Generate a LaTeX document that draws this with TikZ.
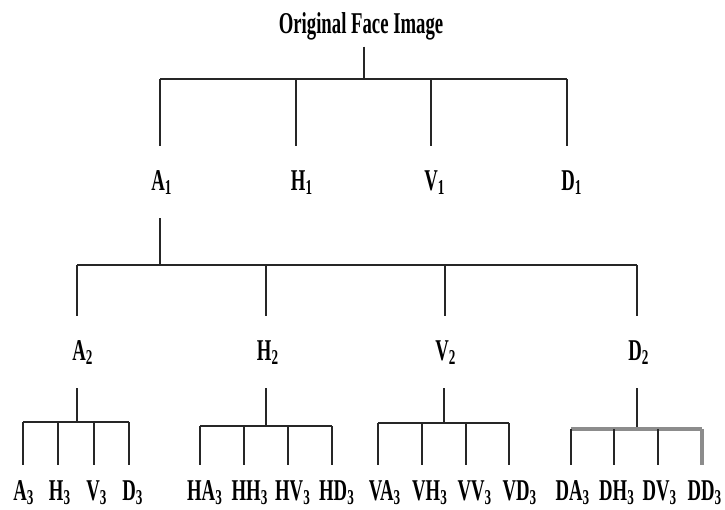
\documentclass[tikz,border=0pt]{standalone}
\usepackage{fontspec}
\setmainfont{Liberation Serif}[FakeStretch=0.62]
\usetikzlibrary{calc}
\tikzset{
	wire/.style={line width=0.9pt, draw=black!85},
	graywire/.style={line width=1.6pt, draw=black!45},
	lbl/.style={font=\fontsize{15.1pt}{18pt}\selectfont\bfseries, inner sep=0pt, anchor=base},
	toplbl/.style={lbl, outer sep=3.5pt},
	lvlone/.style={lbl, outer ysep=12pt},
	lvltwo/.style={lbl, outer ysep=12pt},
	lvlthree/.style={lbl, outer ysep=7.5pt}
}

\begin{document}
\begin{tikzpicture}[x=0.5pt, y=-0.5pt]
			%%%%% START %%%%%
			\useasboundingbox (0,0) rectangle (725,510);
			
			\node[toplbl] (title) at (361,33) {Original Face Image};
			
			% level 1
			\node[lvlone] (a1) at (162,190) {A\textsubscript{1}};
			\node[lvlone] (h1) at (302,190) {H\textsubscript{1}};
			\node[lvlone] (v1) at (435,190) {V\textsubscript{1}};
			\node[lvlone] (d1) at (572,190) {D\textsubscript{1}};
			
			\coordinate (j0) at (364,79);
			\coordinate (a1t) at (160,79);
			\coordinate (h1t) at (296,79);
			\coordinate (v1t) at (431,79);
			\coordinate (d1t) at (567,79);
			\draw[wire] (title.south -| j0) -- (j0);
			\draw[wire] (a1t) -- (d1t);
			\draw[wire] (a1t) -- (a1t |- a1.north);
			\draw[wire] (h1t) -- (h1t |- h1.north);
			\draw[wire] (v1t) -- (v1t |- v1.north);
			\draw[wire] (d1t) -- (d1t |- d1.north);
			
			% level 2
			\node[lvltwo] (a2) at (83,360) {A\textsubscript{2}};
			\node[lvltwo] (h2) at (268,360) {H\textsubscript{2}};
			\node[lvltwo] (v2) at (446,360) {V\textsubscript{2}};
			\node[lvltwo] (d2) at (639,360) {D\textsubscript{2}};
			
			\coordinate (j1) at (160,265);
			\coordinate (a2t) at (77,265);
			\coordinate (h2t) at (266,265);
			\coordinate (v2t) at (445,265);
			\coordinate (d2t) at (637,265);
			\draw[wire] (a1.south -| j1) -- (j1);
			\draw[wire] (a2t) -- (d2t);
			\draw[wire] (a2t) -- (a2t |- a2.north);
			\draw[wire] (h2t) -- (h2t |- h2.north);
			\draw[wire] (v2t) -- (v2t |- v2.north);
			\draw[wire] (d2t) -- (d2t |- d2.north);
			
			% level 3, under A2
			\node[lvlthree] (a3) at (24,500) {A\textsubscript{3}};
			\node[lvlthree] (h3) at (60,500) {H\textsubscript{3}};
			\node[lvlthree] (v3) at (97,500) {V\textsubscript{3}};
			\node[lvlthree] (d3) at (133,500) {D\textsubscript{3}};
			
			\coordinate (ja) at (77,422);
			\coordinate (a3t) at (23,422);
			\coordinate (h3t) at (58,422);
			\coordinate (v3t) at (94,422);
			\coordinate (d3t) at (129,422);
			\draw[wire] (a2.south -| ja) -- (ja);
			\draw[wire] (a3t) -- (d3t);
			\draw[wire] (a3t) -- (a3t |- a3.north);
			\draw[wire] (h3t) -- (h3t |- h3.north);
			\draw[wire] (v3t) -- (v3t |- v3.north);
			\draw[wire] (d3t) -- (d3t |- d3.north);
			
			% level 3, under H2
			\node[lvlthree] (ha3) at (205,500) {HA\textsubscript{3}};
			\node[lvlthree] (hh3) at (250,500) {HH\textsubscript{3}};
			\node[lvlthree] (hv3) at (293,500) {HV\textsubscript{3}};
			\node[lvlthree] (hd3) at (337,500) {HD\textsubscript{3}};
			
			\coordinate (jh) at (266,426);
			\coordinate (ha3t) at (200,426);
			\coordinate (hh3t) at (244,426);
			\coordinate (hv3t) at (288,426);
			\coordinate (hd3t) at (332,426);
			\draw[wire] (h2.south -| jh) -- (jh);
			\draw[wire] (ha3t) -- (hd3t);
			\draw[wire] (ha3t) -- (ha3t |- ha3.north);
			\draw[wire] (hh3t) -- (hh3t |- hh3.north);
			\draw[wire] (hv3t) -- (hv3t |- hv3.north);
			\draw[wire] (hd3t) -- (hd3t |- hd3.north);
			
			% level 3, under V2
			\node[lvlthree] (va3) at (385,500) {VA\textsubscript{3}};
			\node[lvlthree] (vh3) at (430,500) {VH\textsubscript{3}};
			\node[lvlthree] (vv3) at (475,500) {VV\textsubscript{3}};
			\node[lvlthree] (vd3) at (520,500) {VD\textsubscript{3}};
			
			\coordinate (jv) at (444,423);
			\coordinate (va3t) at (378,423);
			\coordinate (vh3t) at (422,423);
			\coordinate (vv3t) at (466,423);
			\coordinate (vd3t) at (509,423);
			\draw[wire] (v2.south -| jv) -- (jv);
			\draw[wire] (va3t) -- (vd3t);
			\draw[wire] (va3t) -- (va3t |- va3.north);
			\draw[wire] (vh3t) -- (vh3t |- vh3.north);
			\draw[wire] (vv3t) -- (vv3t |- vv3.north);
			\draw[wire] (vd3t) -- (vd3t |- vd3.north);
			
			% level 3, under D2
			\node[lvlthree] (da3) at (573,500) {DA\textsubscript{3}};
			\node[lvlthree] (dh3) at (617,500) {DH\textsubscript{3}};
			\node[lvlthree] (dv3) at (660,500) {DV\textsubscript{3}};
			\node[lvlthree] (dd3) at (705,500) {DD\textsubscript{3}};
			
			\coordinate (jd) at (637,429);
			\coordinate (da3t) at (571,429);
			\coordinate (dh3t) at (614,429);
			\coordinate (dv3t) at (658,429);
			\coordinate (dd3t) at (702,429);
			\draw[wire] (d2.south -| jd) -- (jd);
			\draw[graywire] (da3t) -- (dd3t);
			\draw[wire] (da3t) -- (da3t |- da3.north);
			\draw[wire] (dh3t) -- (dh3t |- dh3.north);
			\draw[wire] (dv3t) -- (dv3t |- dv3.north);
			\draw[graywire] (dd3t) -- (dd3t |- dd3.north);
			%%%%% END %%%%%
\end{tikzpicture}
\end{document}
